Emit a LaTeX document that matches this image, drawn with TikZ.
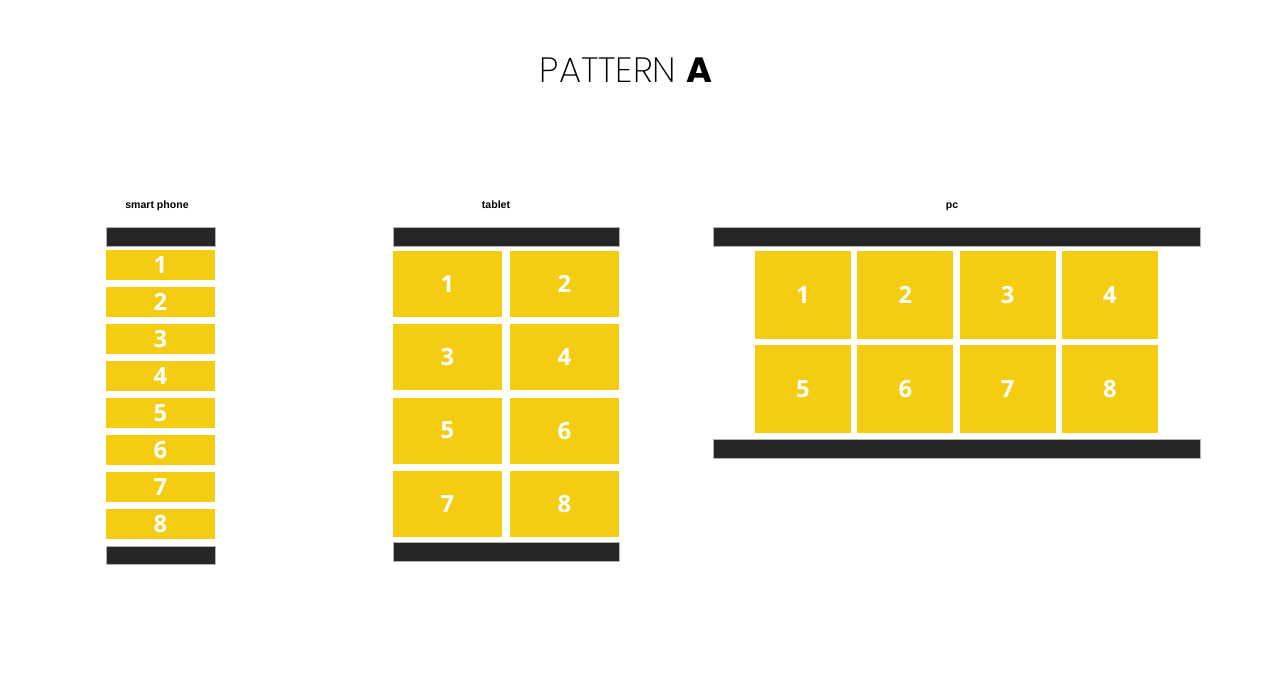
\documentclass[tikz,border=0pt]{standalone}
\usepackage{fontspec}
\setmainfont{Liberation Sans}
\newfontfamily\numfont{Open Sans}
\newfontfamily\titlefont{Poppins ExtraLight}
\newfontfamily\titleboldfont{Poppins}
\definecolor{barcol}{HTML}{262626}
\definecolor{cellcol}{HTML}{F4CD12}
\tikzset{
  bar/.style={fill=barcol,draw=gray!60,line width=0.4pt,inner sep=0pt,outer sep=0pt},
  cell/.style={fill=cellcol,inner sep=0pt,outer sep=0pt,text=white,
    font=\numfont\bfseries\fontsize{13.5}{14}\selectfont},
  device/.style={font=\fontsize{6}{7}\selectfont\bfseries,text height=1.6ex,text depth=0.4ex}
}
\begin{document}
\begin{tikzpicture}[x=0.02cm,y=-0.02cm]
\useasboundingbox (0,0) rectangle (1264,685);
% title
\node (title) at (626,70) {\titlefont\fontsize{20}{22}\selectfont PATTERN {\titleboldfont\bfseries A}};
% device names
\node[device] (phone) at (157,203) {smart phone};
\node[device] (tablet) at (496,203) {tablet};
\node[device] (pc) at (952,203) {pc};
% smart phone
\node[bar,minimum width=109*0.02cm,minimum height=19*0.02cm] (phonetop) at (160.5,236.5) {};
\foreach \i in {1,...,8}
  \node[cell,minimum width=109*0.02cm,minimum height=30*0.02cm] (phone\i) at (160.5,228+37*\i) {\i};
\node[bar,minimum width=109*0.02cm,minimum height=18*0.02cm] (phonebottom) at (160.5,555) {};
% tablet
\node[bar,minimum width=226*0.02cm,minimum height=19*0.02cm] (tablettop) at (506,236.5) {};
\foreach \r in {0,...,3}
  \foreach \c in {0,1} {
    \pgfmathtruncatemacro{\n}{2*\r+\c+1}
    \node[cell,minimum width=109*0.02cm,minimum height=66*0.02cm] (tablet\n) at (447.5+117*\c,284+73.3*\r) {\n};
  }
\node[bar,minimum width=226*0.02cm,minimum height=19*0.02cm] (tabletbottom) at (506,551.5) {};
% pc
\node[bar,minimum width=487*0.02cm,minimum height=19*0.02cm] (pctop) at (956.5,236.5) {};
\foreach \r in {0,1}
  \foreach \c in {0,...,3} {
    \pgfmathtruncatemacro{\n}{4*\r+\c+1}
    \node[cell,minimum width=96*0.02cm,minimum height=88*0.02cm] (pc\n) at (803+102.3*\c,295+94*\r) {\n};
  }
\node[bar,minimum width=487*0.02cm,minimum height=19*0.02cm] (pcbottom) at (956.5,448.5) {};
\end{tikzpicture}
\end{document}
